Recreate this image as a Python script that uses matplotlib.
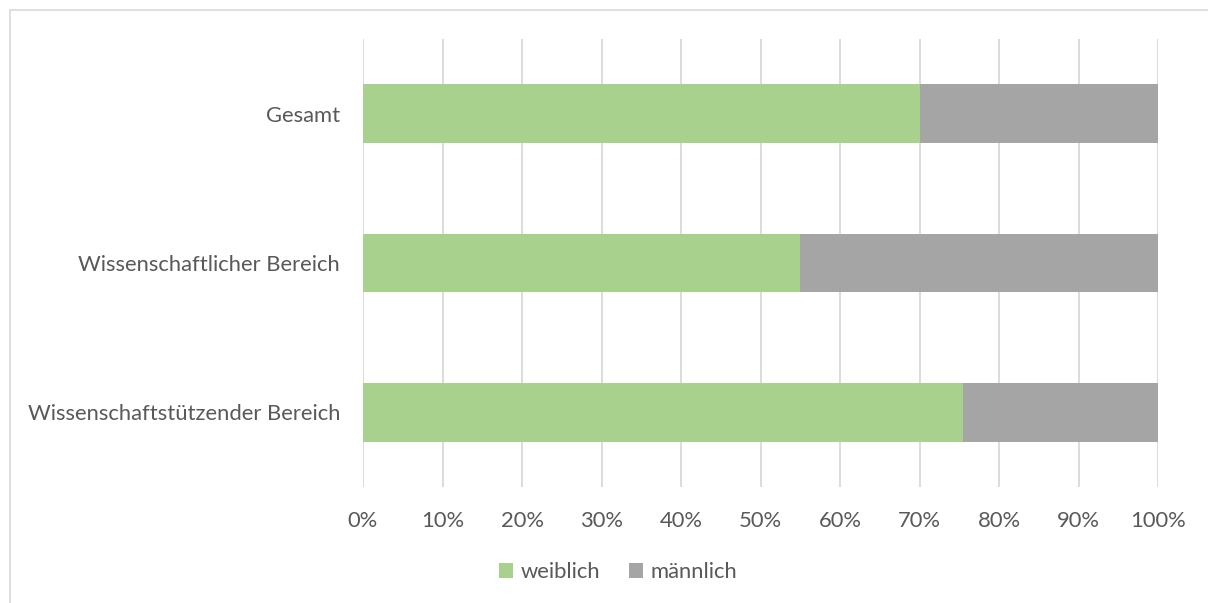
import matplotlib
matplotlib.use("Agg")
import matplotlib.pyplot as plt
from matplotlib.patches import Rectangle
from matplotlib.ticker import FuncFormatter, MultipleLocator

categories = ["Gesamt", "Wissenschaftlicher Bereich", "Wissenschaftstützender Bereich"]
weiblich = [70.0, 55.0, 75.5]
maennlich = [30.0, 45.0, 24.5]
series_names = ["weiblich", "männlich"]
colors = ["#a9d18e", "#a5a5a5"]

plt.rcParams['font.family'] = ['Lato', 'DejaVu Sans']
txt = "#595959"
fs = 15.8

W, H = 1208, 603
fig = plt.figure(figsize=(W / 100, H / 100), dpi=100)
ax = fig.add_axes([363 / W, 1 - 487 / H, (1158 - 363) / W, (487 - 39) / H])

y = list(range(len(categories)))
ax.barh(y, weiblich, height=0.395, color=colors[0], label=series_names[0], zorder=3)
ax.barh(y, maennlich, left=weiblich, height=0.395, color=colors[1], label=series_names[1], zorder=3)

ax.set_xlim(0, 100)
ax.set_ylim(len(categories) - 0.5, -0.5)
ax.set_yticks(y)
ax.set_yticklabels(categories, fontsize=fs, color=txt)
ax.xaxis.set_major_locator(MultipleLocator(10))
ax.xaxis.set_major_formatter(FuncFormatter(lambda v, p: f"{v:.0f}%"))
ax.tick_params(axis='x', labelsize=fs, labelcolor=txt, length=0, pad=17)
ax.tick_params(axis='y', length=0, pad=16.5)
ax.grid(axis='x', color="#d9d9d9", linewidth=1.3, zorder=0)
for s in ax.spines.values():
    s.set_visible(False)

fig.legend(loc='center', bbox_to_anchor=(618 / W, 1 - 572 / H), ncol=2, frameon=False,
           fontsize=fs, handlelength=0.65, handleheight=0.65, handletextpad=0.35,
           columnspacing=1.3, labelcolor=txt)

fig.patches.append(Rectangle((10 / W, -0.1), 1.2, 1 - 10 / H + 0.1, transform=fig.transFigure,
                             fill=False, edgecolor="#d9d9d9", linewidth=1.2))

fig.savefig("out.png", dpi=100)
